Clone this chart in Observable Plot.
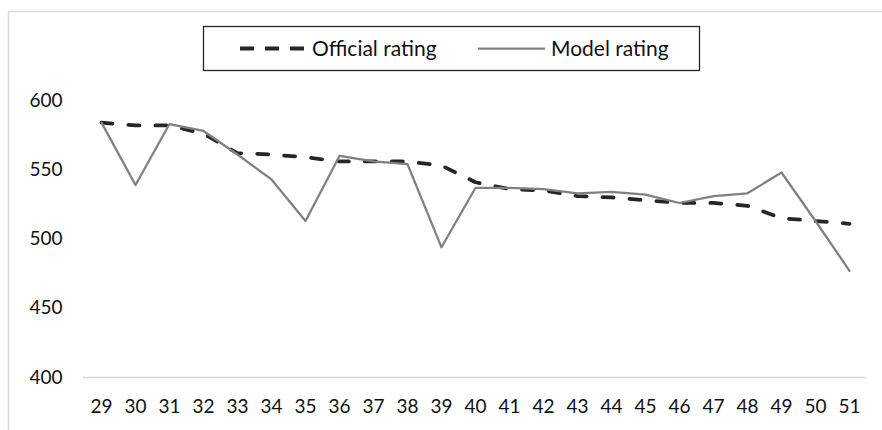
<!DOCTYPE html>
<html>
<head>
<meta charset="utf-8">
<script src="https://cdn.jsdelivr.net/npm/d3@7"></script>
<script src="https://cdn.jsdelivr.net/npm/@observablehq/plot@0.6"></script>
<style>
  html, body { margin: 0; padding: 0; background: #fff; }
  svg { display: block; }
</style>
</head>
<body>
<div id="chart"></div>
<script>
const weeks = [29,30,31,32,33,34,35,36,37,38,39,40,41,42,43,44,45,46,47,48,49,50,51];
const officialRating = [584,582,582,576,562,561,559,556,556,556,553,541,536,535,531,530,528,526,526,524,515,513,511];
const modelRating = [584,539,583,578,561,543,513,560,556,554,494,537,537,536,533,534,532,526,531,533,548,513,477];
const yTicks = [400,450,500,550,600];
const seriesNames = ["Official rating", "Model rating"];

const official = weeks.map((w, i) => ({week: w, value: officialRating[i]}));
const model = weeks.map((w, i) => ({week: w, value: modelRating[i]}));

const FONT = "Lato, 'Open Sans', sans-serif";

const plot = Plot.plot({
  width: 882,
  height: 430,
  marginLeft: 83,
  marginRight: 16,
  marginTop: 100,
  marginBottom: 53,
  style: {fontFamily: FONT, fontSize: "19px", color: "#111", background: "#fff"},
  x: {type: "point", domain: weeks, padding: 0.5, label: null},
  y: {domain: [400, 600], label: null},
  marks: [
    Plot.ruleY([400], {stroke: "#d9d9d9", strokeWidth: 1.5}),
    Plot.axisY({ticks: yTicks, tickSize: 0, tickPadding: 21, label: null, fontSize: 19}),
    Plot.axisX({tickSize: 0, tickPadding: 22, label: null, fontSize: 19}),
    Plot.line(official, {x: "week", y: "value", stroke: "#262626", strokeWidth: 3.75,
      strokeDasharray: "11,16", strokeLinecap: "round"}),
    Plot.line(model, {x: "week", y: "value", stroke: "#808080", strokeWidth: 2.25})
  ]
});

const svg = d3.select(plot);
// chart area border
svg.insert("rect", ":first-child")
  .attr("x", 8.5).attr("y", 11.5).attr("width", 1000).attr("height", 1000)
  .attr("fill", "none").attr("stroke", "#d9d9d9").attr("stroke-width", 1.5);

// legend
const lg = svg.append("g").attr("font-family", FONT).attr("font-size", 21)
  .attr("fill", "#111").attr("text-anchor", "start");
lg.append("rect").attr("x", 203.5).attr("y", 26.5).attr("width", 496).attr("height", 44)
  .attr("fill", "#fff").attr("stroke", "#262626").attr("stroke-width", 1.3);
lg.append("line").attr("x1", 240).attr("x2", 306).attr("y1", 48.5).attr("y2", 48.5)
  .attr("stroke", "#262626").attr("stroke-width", 4).attr("stroke-dasharray", "14,11");
lg.append("text").attr("x", 312).attr("y", 48.5).attr("dy", "0.35em").text(seriesNames[0]);
lg.append("line").attr("x1", 478).attr("x2", 545).attr("y1", 48.5).attr("y2", 48.5)
  .attr("stroke", "#808080").attr("stroke-width", 2.25);
lg.append("text").attr("x", 551).attr("y", 48.5).attr("dy", "0.35em").text(seriesNames[1]);

document.getElementById("chart").appendChild(plot);
</script>
</body>
</html>
